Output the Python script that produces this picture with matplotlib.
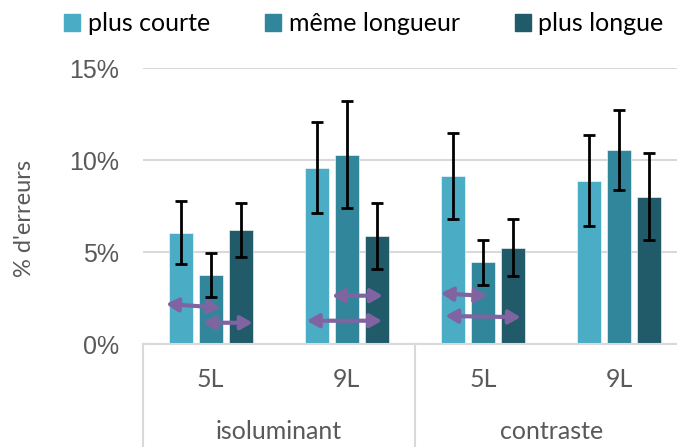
import numpy as np
import matplotlib.pyplot as plt
from matplotlib.patches import Patch
import matplotlib.transforms as mtransforms

plt.rc('font', family='Liberation Sans')

#%% data

groupes = ['isoluminant', 'contraste']
conditions = ['5L', '9L', '5L', '9L']
series = ['plus courte', 'même longueur', 'plus longue']

plus_courte = [6.07, 9.6, 9.14, 8.9]
meme_longueur = [3.77, 10.3, 4.46, 10.56]
plus_longue = [6.2, 5.87, 5.25, 8.03]

err_courte = [1.72, 2.47, 2.35, 2.47]
err_meme = [1.18, 2.9, 1.22, 2.16]
err_longue = [1.48, 1.79, 1.54, 2.36]

# double arrows: (x start, x end, y start, y end), x in category units
fleches_x0 = [-0.327, -0.058, 0.891, 0.706, 1.689, 1.723]
fleches_x1 = [0.074, 0.309, 1.264, 1.258, 2.032, 2.277]
fleches_y0 = [2.19, 1.17, 2.64, 1.28, 2.77, 1.54]
fleches_y1 = [1.99, 1.17, 2.64, 1.28, 2.62, 1.47]

colors = ['#4bacc6', '#31869b', '#215a69']
GRIS = '#595959'
GRILLE = '#d9d9d9'
PURPLE = '#8064a2'
FONT_CAT = 'Lato'

#%%

fig = plt.figure(figsize=(6.77, 4.47), dpi=100)
ax = fig.add_axes([0.2105, 0.2298, 0.8048, 0.6174])

x = np.arange(len(conditions))
w = 0.176
dx = 0.22
valeurs = [plus_courte, meme_longueur, plus_longue]
erreurs = [err_courte, err_meme, err_longue]
for i in range(3):
    ax.bar(x + (i - 1) * dx, valeurs[i], w, color=colors[i], edgecolor='#ffffff',
           linewidth=0.4, zorder=2)
    ax.errorbar(x + (i - 1) * dx, valeurs[i], yerr=erreurs[i], fmt='none', ecolor='black',
                elinewidth=2, capsize=4.3, capthick=2, zorder=3)

for x0, x1, y0, y1 in zip(fleches_x0, fleches_x1, fleches_y0, fleches_y1):
    ax.annotate('', xy=(x1, y1), xytext=(x0, y0),
                arrowprops=dict(arrowstyle='<|-|>,head_length=0.7,head_width=0.4',
                                color=PURPLE, lw=3, shrinkA=0, shrinkB=0), zorder=4)

ax.set_xlim(-0.5, 3.5)
ax.set_ylim(0, 15)
ax.set_yticks([0, 5, 10, 15])
ax.set_yticklabels(['0%', '5%', '10%', '15%'])
ax.yaxis.grid(True, color=GRILLE, lw=1.5, zorder=0)
ax.set_axisbelow(True)
for s in ['top', 'right', 'left']:
    ax.spines[s].set_visible(False)
ax.spines['bottom'].set_color(GRILLE)
ax.spines['bottom'].set_linewidth(1.5)
ax.tick_params(axis='y', length=0, pad=17, labelsize=18, labelcolor=GRIS)
ax.set_xticks([])

# y label, placed by hand
ax.text(-0.2175, 0.456, "% d'erreurs", transform=ax.transAxes, rotation=90,
        ha='center', va='center', fontsize=17, color=GRIS, family=FONT_CAT)

# category labels (two levels)
trans = mtransforms.blended_transform_factory(ax.transData, ax.transAxes)
for xi, c in zip(x, conditions):
    ax.text(xi, -0.129, c, transform=trans, ha='center', va='center',
            fontsize=18, color=GRIS, family=FONT_CAT)
for gi, g in enumerate(groupes):
    ax.text(0.5 + 2 * gi, -0.317, g, transform=trans, ha='center', va='center',
            fontsize=18, color=GRIS, family=FONT_CAT)
for xs in [-0.5, 1.5, 3.5]:
    ax.plot([xs, xs], [0, -0.5], transform=trans, color=GRILLE, lw=1.5, clip_on=False)

handles = [Patch(color=c) for c in colors]
fig.legend(handles, series, loc='upper left', bbox_to_anchor=(64 / 677, 1 - 12 / 447),
           ncol=3, frameon=False, prop={'family': FONT_CAT, 'size': 18},
           handlelength=0.65, handleheight=0.65, handletextpad=0.3,
           columnspacing=2.2, borderpad=0, borderaxespad=0)

plt.savefig('out.png', dpi=100)
